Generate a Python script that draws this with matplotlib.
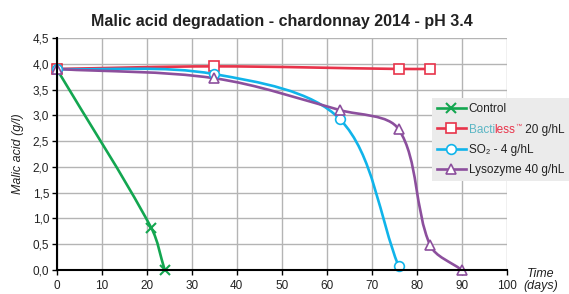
import numpy as np
import matplotlib
matplotlib.use("Agg")
import matplotlib.pyplot as plt
from matplotlib.path import Path
from matplotlib.patches import PathPatch
from matplotlib.lines import Line2D
from matplotlib.text import Annotation

# data
days_control = [0, 21, 24]
acid_control = [3.9, 0.82, 0.0]

days_bactiless = [0, 35, 76, 83]
acid_bactiless = [3.9, 3.95, 3.9, 3.9]

days_so2 = [0, 35, 63, 76]
acid_so2 = [3.9, 3.8, 2.92, 0.07]

days_lyso = [0, 35, 63, 76, 83, 90]
acid_lyso = [3.9, 3.72, 3.1, 2.73, 0.48, 0.0]

x_ticks = list(range(0, 101, 10))
y_ticks = [0, 0.5, 1.0, 1.5, 2.0, 2.5, 3.0, 3.5, 4.0, 4.5]

plt.rcParams['font.family'] = ['Liberation Sans', 'DejaVu Sans']

green = '#13a650'
red = '#e8334a'
cyan = '#10b4ea'
purple = '#8c4f9d'
teal = '#5bb6c4'
txt = '#222222'


def smooth_path(xs, ys, sx=4.5, sy=52.0):
    # smoothed line as cubic bezier segments, tangents scaled by
    # segment length (measured roughly in screen units)
    pts = np.column_stack([xs, ys]).astype(float)
    scr = pts * [sx, sy]
    n = len(pts)

    def dist(a, b):
        return np.hypot(*(scr[b] - scr[a]))

    verts = [pts[0]]
    codes = [Path.MOVETO]
    for i in range(n - 1):
        i0, i3 = max(i - 1, 0), min(i + 2, n - 1)
        d01, d12, d23 = dist(i0, i), dist(i, i + 1), dist(i + 1, i3)
        c1 = pts[i] + (pts[i + 1] - pts[i0]) * d12 / (d01 + d12) / 3.0
        c2 = pts[i + 1] - (pts[i3] - pts[i]) * d12 / (d12 + d23) / 3.0
        verts += [c1, c2, pts[i + 1]]
        codes += [Path.CURVE4] * 3
    return Path(verts, codes)


fig = plt.figure(figsize=(5.69, 2.94), dpi=100)
ax = fig.add_axes([0.0997, 0.0816, 0.7907, 0.7891])

series = [
    (days_control, acid_control, green, 'x', 'Control'),
    (days_bactiless, acid_bactiless, red, 's', 'Bacti'),
    (days_so2, acid_so2, cyan, 'o', 'SO\u2082 - 4 g/hL'),
    (days_lyso, acid_lyso, purple, '^', 'Lysozyme 40 g/hL'),
]

handles = []
for xs, ys, col, mk, lab in series:
    ax.add_patch(PathPatch(smooth_path(xs, ys), facecolor='none', edgecolor=col,
                           lw=1.9, zorder=3))
    if mk == 'x':
        ax.plot(xs, ys, ls='none', marker=mk, ms=7, mew=1.5, color=col, zorder=4,
                clip_on=False)
    else:
        ax.plot(xs, ys, ls='none', marker=mk, ms=7, mew=1.2, mfc='white', mec=col,
                zorder=4, clip_on=False)
    handles.append(Line2D([], [], color=col, lw=1.9, marker=mk, ms=7,
                          mew=1.5 if mk == 'x' else 1.2,
                          mfc=col if mk == 'x' else 'white', mec=col, label=lab))

ax.set_xlim(0, 100)
ax.set_ylim(0, 4.5)
ax.set_xticks(x_ticks)
ax.set_yticks(y_ticks)
ax.set_yticklabels([f"{v:.1f}".replace('.', ',') for v in y_ticks])
ax.tick_params(axis='both', labelsize=8.5, length=3.5, width=1, color='black',
               labelcolor=txt, pad=2)
ax.tick_params(axis='x', pad=4)
ax.grid(True, color='#b4b4b4', lw=1)
ax.set_axisbelow(True)
for s in ['top', 'right']:
    ax.spines[s].set_visible(False)
for s in ['left', 'bottom']:
    ax.spines[s].set_linewidth(1.5)
    ax.spines[s].set_color('black')
    ax.spines[s].set_zorder(5)

ax.set_ylabel('Malic acid (g/l)', fontsize=9, style='italic', color=txt,
              labelpad=6)
ax.set_title('Malic acid degradation - chardonnay 2014 - pH 3.4', fontsize=11.5,
             fontweight='bold', color=txt, pad=9)
fig.text(0.951, 1 - 280 / 294, 'Time\n(days)', ha='center', va='center',
         fontsize=9, style='italic', color=txt, linespacing=1.0)

leg = fig.legend(handles=handles, loc='upper left',
                 bbox_to_anchor=(432 / 569, 1 - 98 / 294), fontsize=8.5,
                 frameon=True, fancybox=False, facecolor='#ebebeb',
                 edgecolor='none', framealpha=1, handlelength=2.4,
                 handletextpad=0.25, labelspacing=0.7, borderpad=0.45,
                 borderaxespad=0)
for t in leg.get_texts():
    t.set_color(txt)

# two-coloured brand name in the legend, rest drawn after the legend itself
bt = leg.get_texts()[1]
bt.set_color(teal)
t2 = Annotation('less', xy=(1, 0), xycoords=bt, ha='left', va='bottom',
                fontsize=8.5, color=red, zorder=10)
t3 = Annotation('\u2122', xy=(1, 1), xycoords=t2, ha='left', va='top',
                fontsize=4.5, color=red, zorder=10)
t4 = Annotation(' 20 g/hL', xy=(1, 0), xycoords=(t3, t2), ha='left',
                va='bottom', fontsize=8.5, color=txt, zorder=10)
for a in [t2, t3, t4]:
    fig.add_artist(a)

fig.savefig('out.png', dpi=100)
